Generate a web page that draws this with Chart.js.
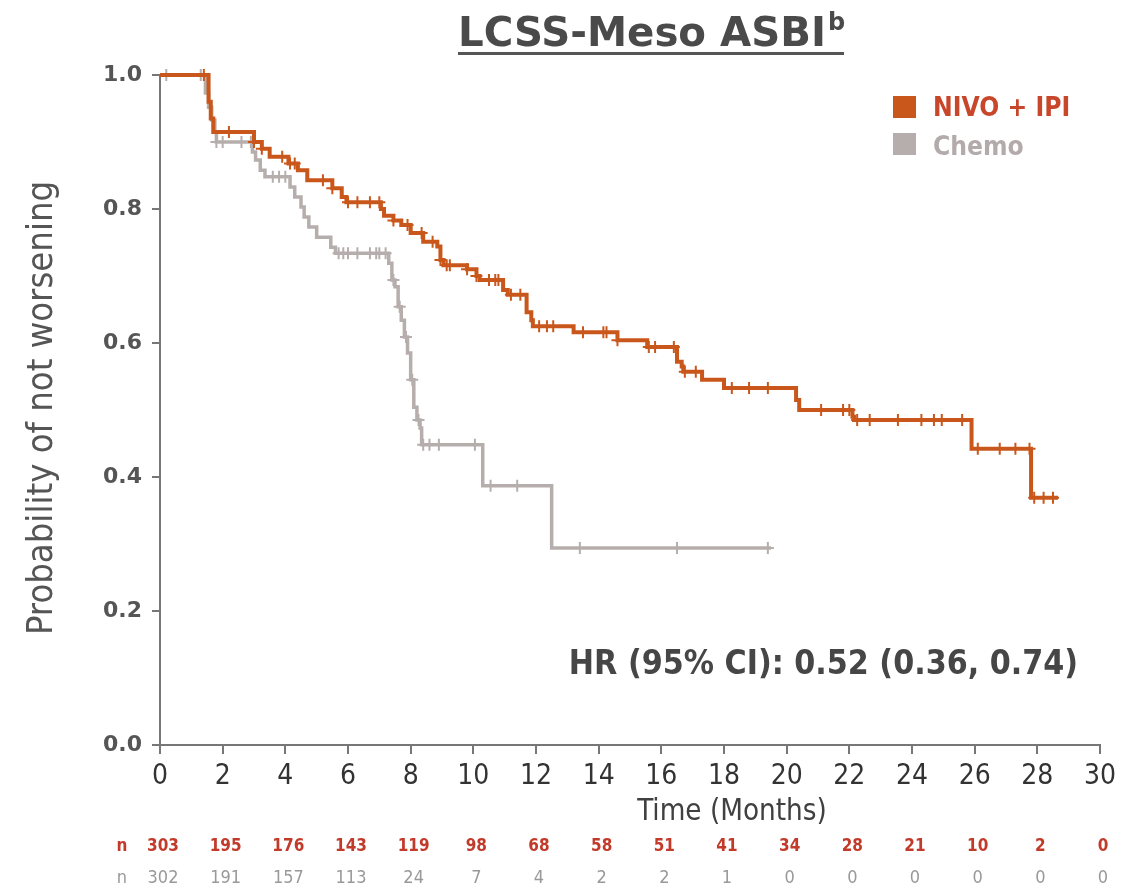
<!DOCTYPE html>
<html>
<head>
<meta charset="utf-8">
<script src="https://cdn.jsdelivr.net/npm/chart.js@4.4.1/dist/chart.umd.min.js"></script>
<style>
    html, body { margin: 0; padding: 0; background: #fff; }
    #wrap { width: 1137px; height: 889px; position: relative; }
</style>
</head>
<body>
<div id="wrap"><canvas id="kmChart" width="1137" height="889"></canvas></div>
<script>
// Kaplan-Meier steps: time (months) and probability after each drop
const nivoTimes = [0, 1.55, 1.62, 1.7, 3.0, 3.25, 3.5, 4.1, 4.4, 4.7, 5.5, 5.8, 5.95,
    7.05, 7.15, 7.45, 7.7, 8.0, 8.4, 8.85, 8.95, 9.05, 9.8, 10.1, 10.2, 10.95, 11.1,
    11.7, 11.85, 11.9, 13.2, 14.6, 15.55, 16.5, 16.65, 16.7, 17.3, 18.0, 20.3, 20.4,
    22.1, 22.15, 25.9, 27.8, 28.66];
const nivoSurv = [1.0, 0.96, 0.935, 0.915, 0.90, 0.89, 0.878, 0.868, 0.858, 0.843, 0.831, 0.818, 0.81,
    0.80, 0.79, 0.783, 0.776, 0.764, 0.751, 0.744, 0.724, 0.716, 0.71, 0.70, 0.694, 0.679, 0.672,
    0.646, 0.634, 0.625, 0.616, 0.604, 0.594, 0.572, 0.565, 0.557, 0.545, 0.533, 0.515, 0.50,
    0.49, 0.485, 0.442, 0.369, 0.369];
const nivoCensor = [1.4, 2.2, 3.0, 3.25, 3.9, 4.15, 4.3, 5.2, 5.5, 6.0, 6.3, 6.7, 7.0, 7.45,
    7.9, 8.35, 8.7, 8.95, 9.15, 9.25, 9.8, 10.1, 10.5, 10.7, 10.8, 11.2, 11.5, 12.1, 12.35,
    12.55, 13.5, 14.15, 14.25, 14.6, 15.6, 15.8, 16.4, 16.75, 17.1, 18.25, 18.8, 19.4, 21.1,
    21.8, 22.0, 22.25, 22.65, 23.55, 24.3, 24.7, 24.95, 25.6, 26.1, 26.8, 27.3, 27.75, 27.9,
    28.2, 28.5];

const chemoTimes = [0, 1.45, 1.55, 1.65, 1.75, 1.8, 2.95, 3.05, 3.2, 3.35, 4.15, 4.3, 4.5,
    4.6, 4.75, 5.0, 5.45, 5.6, 7.3, 7.4, 7.5, 7.6, 7.7, 7.8, 7.9, 8.0, 8.1, 8.2, 8.3, 8.35,
    10.3, 12.5, 19.5];
const chemoSurv = [1.0, 0.973, 0.952, 0.933, 0.915, 0.90, 0.885, 0.873, 0.858, 0.848, 0.833, 0.818, 0.803,
    0.788, 0.773, 0.758, 0.743, 0.734, 0.719, 0.694, 0.684, 0.654, 0.634, 0.609, 0.585, 0.545,
    0.504, 0.485, 0.473, 0.448, 0.387, 0.294, 0.294];
const chemoCensor = [0.2, 1.3, 1.8, 2.0, 2.6, 2.9, 3.6, 3.8, 4.0, 5.7, 5.85, 6.0, 6.3, 6.7,
    6.9, 7.0, 7.2, 7.45, 7.65, 7.85, 8.05, 8.25, 8.4, 8.6, 8.9, 10.05, 10.55, 11.4, 13.4,
    16.5, 19.4];

// Numbers at risk
const riskTimes = [0, 2, 4, 6, 8, 10, 12, 14, 16, 18, 20, 22, 24, 26, 28, 30];
const nivoAtRisk = [303, 195, 176, 143, 119, 98, 68, 58, 51, 41, 34, 28, 21, 10, 2, 0];
const chemoAtRisk = [302, 191, 157, 113, 24, 7, 4, 2, 2, 1, 0, 0, 0, 0, 0, 0];

const NIVO_COLOR = '#c9571b';
const CHEMO_COLOR = '#b6aeac';

function stepPoints(times, surv) {
    return times.map(function (t, i) { return { x: t, y: surv[i] }; });
}

function survAt(times, surv, t) {
    let s = surv[0];
    for (let i = 0; i < times.length; i++) {
        if (times[i] <= t) s = surv[i];
    }
    return s;
}

function censorPoints(censor, times, surv) {
    return censor.map(function (t) { return { x: t, y: survAt(times, surv, t) }; });
}

// pick a font size so the text spans a given width
function fitFont(ctx, text, weight, family, targetW) {
    ctx.font = weight + ' 40px ' + family;
    const w = ctx.measureText(text).width;
    return weight + ' ' + (40 * targetW / w).toFixed(1) + 'px ' + family;
}

const overlayPlugin = {
    id: 'overlay',
    afterDraw: function (chart) {
        const ctx = chart.ctx;
        const xs = chart.scales.x;
        ctx.save();

        // title with superscript and underline
        const title = 'LCSS-Meso ASBI';
        ctx.font = fitFont(ctx, title, '600', '"DejaVu Sans"', 368);
        ctx.fillStyle = '#4a4a4a';
        ctx.textAlign = 'left';
        ctx.textBaseline = 'alphabetic';
        ctx.fillText(title, 458, 46);
        const tw = ctx.measureText(title).width;
        ctx.font = '600 24px "DejaVu Sans"';
        ctx.fillText('b', 458 + tw + 2, 30);
        ctx.fillStyle = '#555';
        ctx.fillRect(458, 52, 386, 3);

        // y axis title
        ctx.save();
        ctx.translate(43, 408);
        ctx.rotate(-Math.PI / 2);
        ctx.font = fitFont(ctx, 'Probability of not worsening', 'normal', '"DejaVu Sans Condensed"', 455);
        ctx.fillStyle = '#555';
        ctx.textAlign = 'center';
        ctx.textBaseline = 'middle';
        ctx.fillText('Probability of not worsening', 0, 0);
        ctx.restore();

        // x axis title
        ctx.font = fitFont(ctx, 'Time (Months)', 'normal', '"DejaVu Sans Condensed"', 190);
        ctx.fillStyle = '#404040';
        ctx.textAlign = 'center';
        ctx.textBaseline = 'middle';
        ctx.fillText('Time (Months)', 732, 812);

        // HR annotation
        const hr = 'HR (95% CI): 0.52 (0.36, 0.74)';
        ctx.font = fitFont(ctx, hr, 'bold', '"DejaVu Sans Condensed"', 510);
        ctx.fillStyle = '#464646';
        ctx.textAlign = 'right';
        ctx.fillText(hr, 1078, 665);

        // legend
        ctx.fillStyle = NIVO_COLOR;
        ctx.fillRect(893, 96, 23, 22);
        ctx.fillStyle = CHEMO_COLOR;
        ctx.fillRect(893, 133, 23, 22);
        ctx.textAlign = 'left';
        ctx.font = fitFont(ctx, 'NIVO + IPI', 'bold', '"DejaVu Sans Condensed"', 137);
        ctx.fillStyle = '#c8462a';
        ctx.fillText('NIVO + IPI', 933, 109);
        ctx.fillStyle = '#b3abab';
        ctx.fillText('Chemo', 933, 148);

        // numbers at risk
        ctx.textAlign = 'center';
        ctx.font = 'bold 17px "Liberation Sans Narrow", "DejaVu Sans Condensed", sans-serif';
        ctx.fillStyle = '#c23a2a';
        ctx.fillText('n', 122, 847);
        riskTimes.forEach(function (t, i) {
            ctx.fillText(String(nivoAtRisk[i]), xs.getPixelForValue(t) + 3, 847);
        });
        ctx.font = '18px "Liberation Sans Narrow", "DejaVu Sans Condensed", sans-serif';
        ctx.fillStyle = '#999';
        ctx.fillText('n', 122, 878);
        riskTimes.forEach(function (t, i) {
            ctx.fillText(String(chemoAtRisk[i]), xs.getPixelForValue(t) + 3, 878);
        });

        ctx.restore();
    }
};

const ctx = document.getElementById('kmChart');

new Chart(ctx, {
    type: 'scatter',
    data: {
        datasets: [
            {
                label: 'NIVO + IPI',
                type: 'line',
                data: stepPoints(nivoTimes, nivoSurv),
                stepped: 'before',
                borderColor: NIVO_COLOR,
                borderWidth: 4,
                pointRadius: 0,
                fill: false,
                clip: 10,
                order: 1
            },
            {
                label: 'NIVO censored',
                data: censorPoints(nivoCensor, nivoTimes, nivoSurv),
                pointStyle: 'cross',
                pointRadius: 6,
                borderWidth: 2,
                borderColor: NIVO_COLOR,
                backgroundColor: NIVO_COLOR,
                clip: 10,
                order: 2
            },
            {
                label: 'Chemo',
                type: 'line',
                data: stepPoints(chemoTimes, chemoSurv),
                stepped: 'before',
                borderColor: CHEMO_COLOR,
                borderWidth: 3.5,
                pointRadius: 0,
                fill: false,
                clip: 10,
                order: 3
            },
            {
                label: 'Chemo censored',
                data: censorPoints(chemoCensor, chemoTimes, chemoSurv),
                pointStyle: 'cross',
                pointRadius: 6,
                borderWidth: 2,
                borderColor: CHEMO_COLOR,
                backgroundColor: CHEMO_COLOR,
                clip: 10,
                order: 4
            }
        ]
    },
    options: {
        responsive: false,
        animation: false,
        layout: {
            padding: { top: 75, right: 37, bottom: 0, left: 0 }
        },
        plugins: {
            legend: { display: false },
            tooltip: { enabled: false },
            title: { display: false }
        },
        scales: {
            x: {
                type: 'linear',
                min: 0,
                max: 30,
                afterFit: function (scale) { scale.height = 144; },
                ticks: {
                    stepSize: 2,
                    color: '#333',
                    padding: 6,
                    font: { family: '"Liberation Sans Narrow", "DejaVu Sans Condensed", sans-serif', size: 28 }
                },
                grid: {
                    drawOnChartArea: false,
                    drawTicks: true,
                    tickLength: 9,
                    color: '#777',
                    lineWidth: 2
                },
                border: { display: true, color: '#777', width: 2 }
            },
            y: {
                type: 'linear',
                min: 0,
                max: 1,
                afterFit: function (scale) { scale.width = 160; },
                ticks: {
                    stepSize: 0.2,
                    color: '#555',
                    padding: 10,
                    font: { family: '"DejaVu Sans"', size: 22, weight: 'bold' },
                    callback: function (v) { return v.toFixed(1); }
                },
                grid: {
                    drawOnChartArea: false,
                    drawTicks: true,
                    tickLength: 8,
                    color: '#777',
                    lineWidth: 2
                },
                border: { display: true, color: '#777', width: 2 }
            }
        }
    },
    plugins: [overlayPlugin]
});
</script>
</body>
</html>
